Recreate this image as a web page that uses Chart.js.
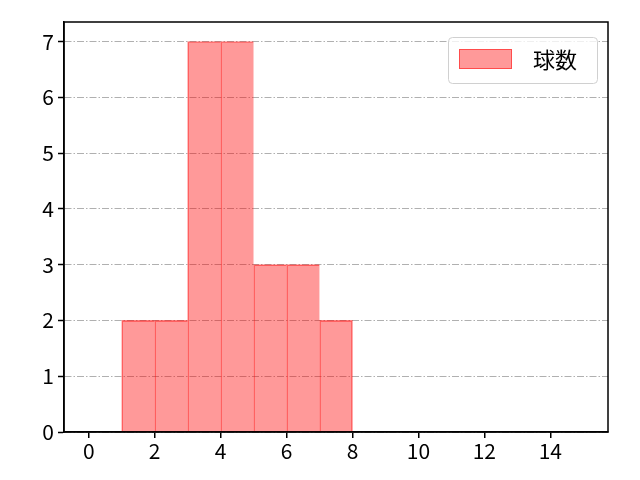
<!DOCTYPE html>
<html>
<head>
<meta charset="utf-8">
<script src="https://cdn.jsdelivr.net/npm/chart.js@4"></script>
<style>
  html, body { margin: 0; padding: 0; background: #fff; }
  #wrap { width: 640px; height: 480px; position: relative; }
</style>
</head>
<body>
<div id="wrap"><canvas id="histChart"></canvas></div>
<script>
// histogram bins (width 1) and counts
const binStarts = [1, 2, 3, 4, 5, 6, 7]
const counts = [2, 2, 7, 7, 3, 3, 2]
const xTicks = [0, 2, 4, 6, 8, 10, 12, 14]
const yTicks = [0, 1, 2, 3, 4, 5, 6, 7]
const seriesLabel = '球数'

const barFill = 'rgba(255, 0, 0, 0.4)'
const barEdge = 'rgba(255, 0, 0, 0.5)'
const fontFamily = '"Noto Sans CJK JP", "DejaVu Sans", sans-serif'

// frame around the plot area + legend inside top-right
const framePlugin = {
  id: 'frame',
  afterDraw(chart) {
    const { ctx, chartArea: a } = chart
    ctx.save()
    ctx.strokeStyle = '#000'
    ctx.lineWidth = 1.5
    ctx.strokeRect(a.left, a.top, a.right - a.left, a.bottom - a.top)

    // legend box
    const bw = 149, bh = 46
    const bx = a.right - 11 - bw, by = a.top + 15
    ctx.fillStyle = 'rgba(255,255,255,0.8)'
    ctx.strokeStyle = '#d0d0d0'
    ctx.lineWidth = 1
    ctx.beginPath()
    ctx.roundRect(bx + 0.5, by + 0.5, bw, bh, 4)
    ctx.fill()
    ctx.stroke()
    ctx.fillStyle = barFill
    ctx.strokeStyle = barEdge
    ctx.fillRect(bx + 11, by + 12, 53, 20)
    ctx.strokeRect(bx + 11.5, by + 12.5, 52, 19)
    ctx.fillStyle = '#000'
    ctx.font = '22px "Noto Sans CJK JP", sans-serif'
    ctx.textBaseline = 'middle'
    ctx.fillText(seriesLabel, bx + 85, by + 23)
    ctx.restore()
  },
}

const ctxEl = document.getElementById('histChart')
new Chart(ctxEl, {
  type: 'bar',
  data: {
    datasets: [
      {
        label: seriesLabel,
        data: binStarts.map((b, i) => ({ x: b + 0.5, y: counts[i] })),
        backgroundColor: barFill,
        borderColor: barEdge,
        borderWidth: (c) => ({ top: 1, left: 1, bottom: 0, right: c.dataIndex === counts.length - 1 ? 1 : 0 }),
        borderSkipped: false,
        barPercentage: 1,
        categoryPercentage: 1,
      },
    ],
  },
  options: {
    responsive: true,
    maintainAspectRatio: false,
    animation: false,
    layout: { padding: { left: 0, top: 22, right: 32, bottom: 0 } },
    plugins: { legend: { display: false }, tooltip: { enabled: false } },
    scales: {
      x: {
        type: 'linear',
        offset: false,
        min: -0.75,
        max: 15.75,
        afterBuildTicks: (s) => { s.ticks = xTicks.map((v) => ({ value: v })) },
        afterFit: (s) => { s.height = 48 },
        grid: { offset: false, drawOnChartArea: false, color: '#000', lineWidth: 1.5, tickLength: 6 },
        border: { display: true, color: '#000', width: 1.5 },
        ticks: { color: '#000', font: { family: fontFamily, size: 21 }, padding: 0, maxRotation: 0 },
      },
      y: {
        min: 0,
        max: 7.35,
        afterBuildTicks: (s) => { s.ticks = yTicks.map((v) => ({ value: v })) },
        afterFit: (s) => { s.width = 64 },
        grid: { color: '#b0b0b0', lineWidth: 1, tickColor: '#000', tickWidth: 1.5, tickLength: 6, tickBorderDash: [] },
        border: { display: true, color: '#000', width: 1.5, dash: [7, 2, 1.5, 2] },
        ticks: { color: '#000', font: { family: fontFamily, size: 21 }, padding: 4 },
      },
    },
  },
  plugins: [framePlugin],
})
</script>
</body>
</html>
